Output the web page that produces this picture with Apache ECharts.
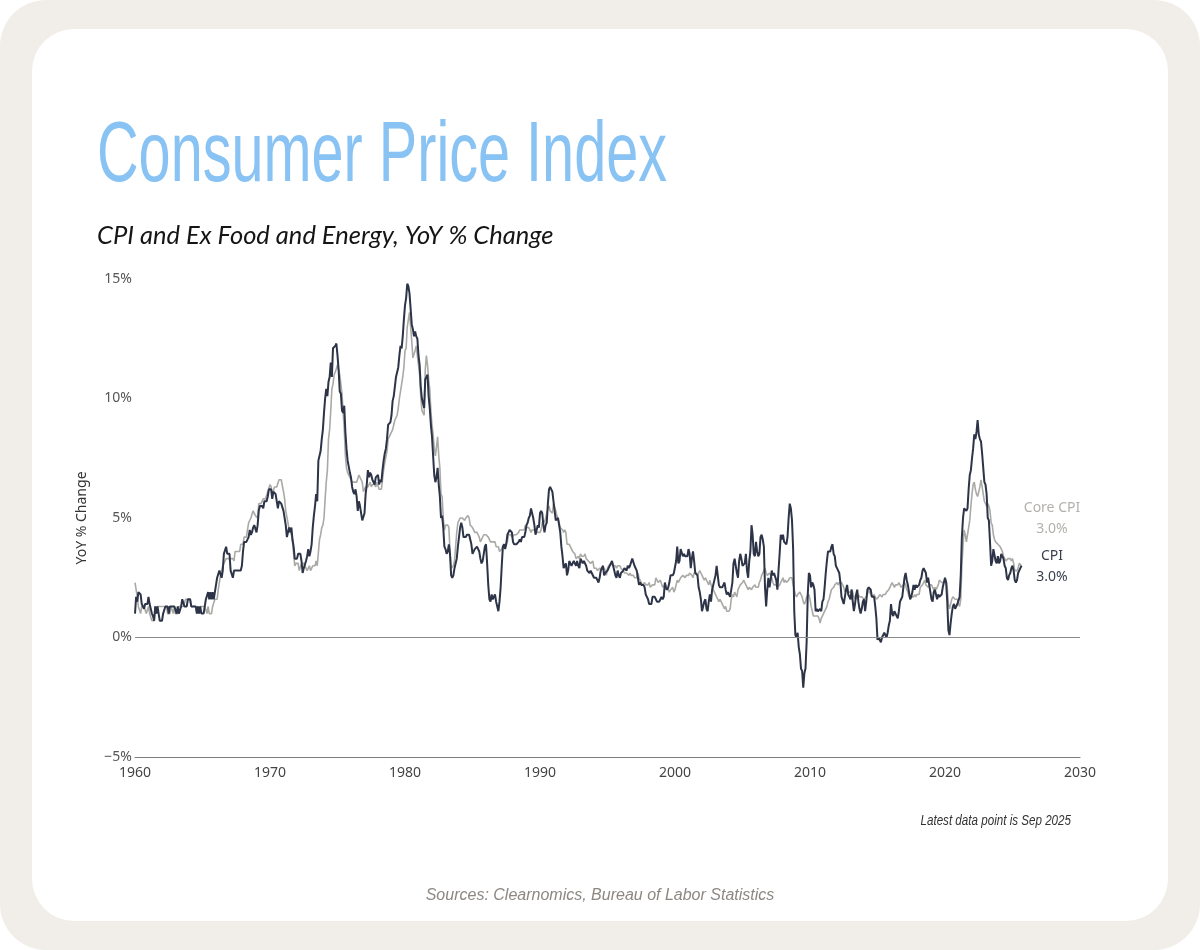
<!DOCTYPE html>
<html>
<head>
<meta charset="utf-8">
<title>Consumer Price Index</title>
<script src="https://cdn.jsdelivr.net/npm/echarts@6/dist/echarts.min.js"></script>
<style>
  html, body { margin: 0; padding: 0; background: #ffffff; }
  #frame { position: relative; width: 1200px; height: 950px; background: #f1eee9; border-radius: 46px; overflow: hidden; }
  #card { position: absolute; left: 32px; top: 29px; width: 1136px; height: 892px; background: #ffffff; border-radius: 42px; }
  #chart { position: absolute; left: 0; top: 0; width: 1200px; height: 950px; }
</style>
</head>
<body>
<div id="frame">
  <div id="card"></div>
  <div id="chart"></div>
</div>
<script>
// monthly YoY % change, starting Jan 1960
const startYear = 1960;

const cpi = [
  1.0,1.7,1.5,1.9,1.9,1.8,1.4,1.4,1.2,1.4,1.4,1.4,
  1.7,1.4,1.4,1.0,0.9,0.7,1.3,1.0,1.3,1.0,0.7,0.7,
  0.7,1.0,1.0,1.3,1.3,1.3,1.0,1.3,1.3,1.3,1.3,1.3,
  1.3,1.0,1.3,1.0,1.0,1.3,1.6,1.6,1.3,1.3,1.3,1.6,
  1.6,1.6,1.3,1.3,1.3,1.3,1.3,1.0,1.3,1.0,1.3,1.0,
  1.0,1.0,1.3,1.6,1.6,1.9,1.6,1.9,1.6,1.9,1.6,1.9,
  1.9,2.5,2.5,2.8,2.8,2.5,2.8,3.5,3.5,3.8,3.5,3.5,
  3.5,2.8,2.8,2.5,2.8,2.8,2.8,2.8,2.8,2.8,2.8,3.0,
  3.6,4.0,4.0,4.0,4.0,4.2,4.5,4.3,4.4,4.6,4.7,4.7,
  4.4,4.7,5.3,5.5,5.5,5.5,5.4,5.7,5.7,5.7,5.9,6.2,
  6.2,6.2,5.8,6.1,6.1,6.0,6.0,5.4,5.7,5.7,5.6,5.6,
  5.3,5.0,4.7,4.2,4.4,4.6,4.4,4.6,4.1,3.8,3.3,3.3,
  3.3,3.5,3.5,3.5,3.2,2.7,2.9,2.9,3.2,3.4,3.7,3.4,
  3.6,3.9,4.6,5.1,5.5,6.0,5.7,7.4,7.4,7.8,8.3,8.7,
  9.4,10.0,10.4,10.1,10.7,10.9,11.5,10.9,12.1,12.1,12.2,12.3,
  11.8,11.2,10.3,10.2,9.5,9.4,9.7,8.6,7.9,7.4,7.4,6.9,
  6.7,6.3,6.1,6.0,6.2,5.9,5.3,5.7,5.5,5.5,4.9,4.9,
  5.2,6.0,6.4,7.0,6.7,6.9,6.8,6.6,6.6,6.4,6.7,6.7,
  6.8,6.4,6.6,6.5,7.0,7.4,7.7,7.9,8.3,8.9,8.9,9.0,
  9.3,9.9,10.1,10.5,10.9,10.9,11.3,11.8,12.2,12.1,12.6,13.3,
  13.9,14.2,14.8,14.7,14.4,14.4,13.1,12.9,12.6,12.8,12.6,12.5,
  11.8,11.4,10.5,10.0,9.8,9.6,10.8,10.8,11.0,10.1,9.6,8.9,
  8.4,7.6,6.8,6.5,6.7,7.1,6.4,5.9,5.0,5.1,4.6,3.8,
  3.7,3.5,3.6,3.9,3.5,2.6,2.5,2.6,2.9,2.9,3.3,3.8,
  4.2,4.6,4.8,4.6,4.2,4.2,4.2,4.3,4.3,4.3,4.1,3.9,
  3.5,3.5,3.7,3.7,3.8,3.8,3.6,3.3,3.1,3.2,3.5,3.8,
  3.9,3.1,2.2,1.6,1.5,1.8,1.6,1.6,1.8,1.5,1.3,1.1,
  1.5,2.1,3.0,3.8,3.9,3.7,3.9,4.3,4.4,4.5,4.5,4.4,
  4.0,3.9,3.9,3.9,3.9,4.0,4.1,4.0,4.2,4.2,4.2,4.4,
  4.7,4.8,5.0,5.1,5.4,5.2,5.0,4.7,4.3,4.5,4.7,4.6,
  5.2,5.3,5.2,4.7,4.4,4.7,4.8,5.6,6.2,6.3,6.3,6.1,
  5.7,5.3,4.9,4.9,5.0,4.7,4.4,3.8,3.4,2.9,3.0,3.1,
  2.6,2.8,3.2,3.2,3.0,3.1,3.2,3.1,3.0,3.2,3.0,2.9,
  3.3,3.2,3.1,3.2,3.2,3.0,2.8,2.8,2.7,2.8,2.7,2.7,
  2.5,2.5,2.5,2.4,2.3,2.5,2.8,2.9,3.0,2.6,2.7,2.7,
  2.8,2.9,2.9,3.1,3.2,3.0,2.8,2.6,2.5,2.8,2.6,2.5,
  2.7,2.7,2.8,2.9,2.9,2.8,3.0,2.9,3.0,3.0,3.3,3.3,
  3.0,3.0,2.8,2.5,2.2,2.3,2.2,2.2,2.2,2.1,1.8,1.7,
  1.6,1.4,1.4,1.4,1.7,1.7,1.7,1.6,1.5,1.5,1.5,1.6,
  1.7,1.6,1.7,2.3,2.1,2.0,2.1,2.3,2.6,2.6,2.6,2.7,
  2.7,3.2,3.8,3.1,3.2,3.7,3.7,3.4,3.5,3.4,3.4,3.4,
  3.7,3.5,2.9,3.3,3.6,3.2,2.7,2.7,2.6,2.1,1.9,1.6,
  1.1,1.1,1.5,1.6,1.2,1.1,1.5,1.8,1.5,2.0,2.2,2.4,
  2.6,3.0,3.0,2.2,2.1,2.1,2.1,2.2,2.3,2.0,1.8,1.9,
  1.9,1.7,1.7,2.3,3.1,3.3,3.0,2.7,2.5,3.2,3.5,3.3,
  3.0,3.0,3.1,3.5,2.8,2.5,3.2,3.6,4.7,4.3,3.5,3.4,
  4.0,3.6,3.4,3.5,4.2,4.3,4.1,3.8,2.1,1.3,2.0,2.5,
  2.1,2.4,2.8,2.6,2.7,2.7,2.4,2.0,2.8,3.5,4.3,4.1,
  4.3,4.0,4.0,3.9,4.2,5.0,5.6,5.4,4.9,3.7,1.1,0.1,
  0.0,0.2,-0.4,-0.7,-1.3,-1.4,-2.1,-1.5,-1.3,-0.2,1.8,2.7,
  2.6,2.1,2.3,2.2,2.0,1.1,1.2,1.1,1.1,1.2,1.1,1.5,
  1.6,2.1,2.7,3.2,3.6,3.6,3.6,3.8,3.9,3.5,3.4,3.0,
  2.9,2.9,2.7,2.3,1.7,1.7,1.4,1.7,2.0,2.2,1.8,1.7,
  1.6,2.0,1.5,1.1,1.4,1.8,2.0,1.5,1.2,1.0,1.2,1.5,
  1.6,1.1,1.5,2.0,2.1,2.1,2.0,1.7,1.7,1.7,1.3,0.8,
  -0.1,0.0,-0.1,-0.2,0.0,0.1,0.2,0.2,0.0,0.2,0.5,0.7,
  1.4,1.0,0.9,1.1,1.0,1.0,0.8,1.1,1.5,1.6,1.7,2.1,
  2.5,2.7,2.4,2.2,1.9,1.6,1.7,1.9,2.2,2.0,2.2,2.1,
  2.1,2.2,2.4,2.5,2.8,2.9,2.9,2.7,2.3,2.5,2.2,1.9,
  1.6,1.5,1.9,2.0,1.8,1.6,1.8,1.7,1.7,1.8,2.1,2.3,
  2.5,2.3,1.5,0.3,0.1,0.6,1.0,1.3,1.4,1.2,1.2,1.4,
  1.4,1.7,2.6,4.2,5.0,5.4,5.4,5.3,5.4,6.2,6.8,7.0,
  7.5,7.9,8.5,8.3,8.6,9.1,8.5,8.3,8.2,7.7,7.1,6.5,
  6.4,6.0,5.0,4.9,4.0,3.0,3.2,3.7,3.7,3.2,3.1,3.4,
  3.1,3.2,3.5,3.4,3.3,3.0,2.9,2.5,2.4,2.6,2.7,2.9,
  3.0,2.8,2.4,2.3,2.4,2.7,2.7,2.9,3.0
];

const coreCpi = [
  2.3,2.0,1.7,1.3,1.3,1.0,1.3,1.3,1.3,1.3,1.0,1.0,
  1.3,1.0,1.0,0.7,0.7,0.7,1.3,1.0,1.3,1.3,1.3,1.3,
  1.3,1.3,1.3,1.3,1.3,1.0,1.0,1.0,1.3,1.3,1.0,1.3,
  1.0,1.0,1.0,1.3,1.3,1.3,1.3,1.3,1.3,1.6,1.6,1.6,
  1.6,1.6,1.3,1.3,1.3,1.3,1.3,1.0,1.3,1.0,1.3,1.3,
  1.3,1.3,1.3,1.3,1.0,1.3,1.0,1.0,1.0,1.3,1.3,1.6,
  1.6,1.6,2.0,2.3,2.6,2.6,3.0,3.0,3.2,3.3,3.3,3.3,
  3.3,3.3,3.3,3.3,3.2,3.6,3.6,3.6,3.6,3.6,3.9,3.9,
  3.9,4.2,4.2,4.2,4.5,4.8,4.8,5.0,5.0,5.3,5.3,5.1,
  5.1,5.0,5.6,5.6,5.6,5.6,5.8,5.8,5.8,5.8,6.1,6.1,
  6.4,6.3,6.0,6.0,6.3,6.3,6.3,6.3,6.6,6.6,6.6,6.6,
  6.1,5.8,5.3,5.3,4.8,4.5,4.5,4.3,4.0,3.5,3.0,3.1,
  3.1,3.1,2.8,2.8,3.1,3.1,3.1,3.0,3.0,2.8,2.8,3.0,
  2.8,2.8,3.0,3.0,3.0,3.2,3.0,3.0,4.1,4.3,4.6,4.7,
  5.0,5.8,6.5,7.0,8.3,8.7,9.5,10.4,10.6,11.0,11.1,11.1,
  11.4,11.4,11.0,10.6,10.2,9.4,8.7,7.6,7.1,6.9,6.9,6.7,
  6.7,6.5,6.5,6.5,6.5,6.5,6.5,6.8,6.8,6.6,6.5,6.1,
  6.1,6.3,6.3,6.3,6.3,6.5,6.3,6.4,6.4,6.4,6.3,6.5,
  6.5,6.2,6.2,6.2,6.6,7.0,7.3,7.3,7.8,8.3,8.3,8.5,
  8.5,8.7,8.9,9.1,9.1,9.3,9.6,10.0,10.3,10.6,10.9,11.3,
  12.0,12.1,13.0,13.0,13.6,13.6,12.4,11.7,11.7,12.0,12.2,12.2,
  11.4,11.0,10.1,9.5,9.4,9.3,11.2,11.8,11.4,10.8,10.4,9.5,
  8.9,8.5,7.9,7.6,8.0,8.4,7.6,7.1,6.0,5.9,5.0,4.5,
  4.7,4.7,4.7,4.6,3.6,2.9,2.9,3.0,3.2,3.8,4.4,4.8,
  4.9,5.0,5.0,5.0,5.0,4.9,5.0,5.0,5.1,5.0,4.7,4.7,
  4.6,4.5,4.4,4.4,4.4,4.3,4.2,4.0,4.1,4.1,4.3,4.3,
  4.3,4.3,4.2,4.2,4.0,4.0,4.0,4.0,4.0,3.8,3.8,3.8,
  3.6,3.6,3.7,3.8,3.8,3.9,3.9,4.0,4.3,4.3,4.3,4.2,
  4.2,4.3,4.3,4.3,4.3,4.4,4.5,4.5,4.5,4.5,4.5,4.7,
  4.6,4.6,4.6,4.5,4.4,4.5,4.5,4.5,4.4,4.4,4.4,4.4,
  4.4,4.5,4.8,4.9,4.8,5.0,5.0,5.4,5.5,5.3,5.3,5.2,
  5.6,5.6,5.3,5.1,5.1,4.8,4.6,4.6,4.5,4.4,4.5,4.4,
  3.9,3.9,3.9,3.8,3.8,3.6,3.6,3.5,3.3,3.3,3.4,3.3,
  3.5,3.4,3.4,3.4,3.5,3.3,3.3,3.2,3.2,3.1,3.1,3.2,
  2.9,2.9,2.9,2.8,2.8,2.9,2.9,2.9,2.9,2.9,2.8,2.6,
  2.9,3.0,3.0,3.1,3.1,3.0,3.0,3.0,2.9,3.0,3.0,3.0,
  2.9,2.9,2.8,2.7,2.7,2.7,2.7,2.6,2.7,2.6,2.6,2.6,
  2.5,2.5,2.5,2.7,2.5,2.4,2.3,2.2,2.2,2.3,2.2,2.2,
  2.2,2.3,2.1,2.1,2.2,2.2,2.2,2.5,2.5,2.3,2.3,2.4,
  2.4,2.1,2.1,2.2,2.0,2.1,2.1,1.9,2.0,2.0,2.1,1.9,
  2.0,2.2,2.4,2.3,2.4,2.5,2.5,2.6,2.6,2.5,2.6,2.6,
  2.6,2.7,2.7,2.6,2.5,2.7,2.7,2.7,2.6,2.6,2.8,2.7,
  2.6,2.6,2.4,2.5,2.5,2.3,2.2,2.4,2.2,2.2,2.0,1.9,
  1.9,1.7,1.7,1.5,1.6,1.5,1.5,1.3,1.2,1.3,1.1,1.1,
  1.1,1.2,1.6,1.8,1.7,1.9,1.8,1.7,2.0,2.0,2.2,2.2,
  2.3,2.4,2.3,2.2,2.2,2.0,2.1,2.1,2.0,2.1,2.1,2.2,
  2.1,2.1,2.1,2.3,2.4,2.6,2.7,2.8,2.9,2.7,2.6,2.6,
  2.7,2.7,2.5,2.3,2.2,2.2,2.2,2.1,2.1,2.2,2.3,2.4,
  2.5,2.3,2.4,2.3,2.3,2.4,2.5,2.5,2.5,2.2,2.0,1.8,
  1.7,1.8,1.8,1.9,1.8,1.7,1.5,1.4,1.5,1.7,1.7,1.8,
  1.6,1.3,1.1,0.9,0.9,0.9,0.9,0.9,0.8,0.6,0.8,0.8,
  1.0,1.1,1.2,1.3,1.5,1.6,1.8,2.0,2.0,2.1,2.2,2.2,
  2.3,2.2,2.3,2.3,2.3,2.2,2.1,1.9,2.0,2.0,1.9,1.9,
  1.9,2.0,1.9,1.7,1.7,1.6,1.7,1.8,1.7,1.7,1.7,1.7,
  1.6,1.6,1.7,1.8,2.0,1.9,1.9,1.7,1.7,1.8,1.7,1.6,
  1.6,1.7,1.8,1.8,1.7,1.8,1.8,1.8,1.9,1.9,2.0,2.1,
  2.2,2.3,2.2,2.1,2.2,2.2,2.2,2.3,2.2,2.1,2.1,2.2,
  2.3,2.2,2.0,1.9,1.7,1.7,1.7,1.7,1.7,1.8,1.7,1.8,
  1.8,1.8,2.1,2.1,2.2,2.3,2.4,2.2,2.2,2.1,2.2,2.2,
  2.2,2.1,2.0,2.1,2.0,2.1,2.2,2.4,2.4,2.3,2.3,2.3,
  2.3,2.4,2.1,1.4,1.2,1.2,1.6,1.7,1.7,1.6,1.6,1.6,
  1.4,1.3,1.6,3.0,3.8,4.5,4.3,4.0,4.0,4.6,4.9,5.5,
  6.0,6.4,6.5,6.2,6.0,5.9,5.9,6.3,6.6,6.3,6.0,5.7,
  5.6,5.5,5.6,5.5,5.3,4.8,4.7,4.3,4.1,4.0,4.0,3.9,
  3.9,3.8,3.8,3.6,3.4,3.3,3.2,3.2,3.3,3.3,3.3,3.2,
  3.3,3.1,2.8,2.8,2.8,2.9,3.1,3.1,3.0
];

const yearTicks = [1960, 1970, 1980, 1990, 2000, 2010, 2020, 2030];
const pctTicks = [-5, 0, 5, 10, 15];

const toPoints = arr => arr.map((v, i) => [startYear + i / 12, v]);

const chart = echarts.init(document.getElementById('chart'), null, { renderer: 'canvas' });

const labelFont = '"Noto Sans", "Open Sans", sans-serif';

chart.setOption({
  animation: false,
  backgroundColor: 'transparent',
  grid: { left: 135, right: 120, top: 279, bottom: 193, containLabel: false },
  xAxis: {
    type: 'value',
    min: yearTicks[0],
    max: yearTicks[yearTicks.length - 1],
    interval: 10,
    axisLine: { show: true, onZero: false, lineStyle: { color: '#7d7d7d', width: 1.2 } },
    axisTick: { show: false },
    splitLine: { show: false },
    axisLabel: { color: '#444', fontSize: 14, fontFamily: labelFont, margin: 9, formatter: v => String(v) }
  },
  yAxis: {
    type: 'value',
    min: pctTicks[0],
    max: pctTicks[pctTicks.length - 1],
    interval: 5,
    name: 'YoY % Change',
    nameLocation: 'middle',
    nameGap: 46,
    nameTextStyle: { color: '#333', fontSize: 14, fontFamily: labelFont },
    axisLine: { show: false },
    axisTick: { show: false },
    splitLine: { show: false },
    axisLabel: {
      color: '#555', fontSize: 14, fontFamily: labelFont, margin: 3,
      formatter: v => (v < 0 ? '\u2212' + (-v) : v) + '%'
    }
  },
  series: [
    {
      name: 'Core CPI',
      type: 'line',
      data: toPoints(coreCpi),
      showSymbol: false,
      z: 2,
      lineStyle: { color: '#a9aaa6', width: 1.6 },
      markLine: {
        silent: true,
        symbol: ['none', 'none'],
        label: { show: false },
        lineStyle: { color: '#8a8a8a', width: 1.2, type: 'solid' },
        data: [{ yAxis: 0 }]
      }
    },
    {
      name: 'CPI',
      type: 'line',
      data: toPoints(cpi),
      showSymbol: false,
      z: 3,
      lineStyle: { color: '#2d3447', width: 2 }
    }
  ],
  graphic: [
    {
      type: 'group', x: 97, y: 157, scaleX: 0.67, scaleY: 1,
      children: [{
        type: 'text', x: 0, y: 0,
        style: {
          text: 'Consumer Price Index',
          fontSize: 86, fontFamily: '"Liberation Sans", Arial, sans-serif',
          fill: '#88c3f3', textAlign: 'left', textVerticalAlign: 'middle', align: 'left', verticalAlign: 'middle'
        }
      }]
    },
    {
      type: 'text', x: 97, y: 236,
      style: {
        text: 'CPI and Ex Food and Energy, YoY % Change',
        fontSize: 25.5, fontStyle: 'italic', fontFamily: 'Lato, "Open Sans", sans-serif',
        fill: '#151515', textAlign: 'left', textVerticalAlign: 'middle', align: 'left', verticalAlign: 'middle'
      }
    },
    {
      type: 'text', x: 1052, y: 508,
      style: {
        text: 'Core CPI', fontSize: 14, fontFamily: labelFont, fill: '#b3b1ac',
        textAlign: 'center', textVerticalAlign: 'middle', align: 'center', verticalAlign: 'middle'
      }
    },
    {
      type: 'text', x: 1052, y: 529,
      style: {
        text: '3.0%', fontSize: 14, fontFamily: labelFont, fill: '#b3b1ac',
        textAlign: 'center', textVerticalAlign: 'middle', align: 'center', verticalAlign: 'middle'
      }
    },
    {
      type: 'text', x: 1052, y: 556,
      style: {
        text: 'CPI', fontSize: 14, fontFamily: labelFont, fill: '#3a3f4e',
        textAlign: 'center', textVerticalAlign: 'middle', align: 'center', verticalAlign: 'middle'
      }
    },
    {
      type: 'text', x: 1052, y: 577,
      style: {
        text: '3.0%', fontSize: 14, fontFamily: labelFont, fill: '#3a3f4e',
        textAlign: 'center', textVerticalAlign: 'middle', align: 'center', verticalAlign: 'middle'
      }
    },
    {
      type: 'group', x: 1071, y: 821, scaleX: 0.83, scaleY: 1,
      children: [{
        type: 'text', x: 0, y: 0,
        style: {
          text: 'Latest data point is Sep 2025', fontSize: 14, fontStyle: 'italic',
          fontFamily: '"Liberation Sans", Arial, sans-serif', fill: '#333',
          textAlign: 'right', textVerticalAlign: 'middle', align: 'right', verticalAlign: 'middle'
        }
      }]
    },
    {
      type: 'text', x: 600, y: 896,
      style: {
        text: 'Sources: Clearnomics, Bureau of Labor Statistics', fontSize: 16, fontStyle: 'italic',
        fontFamily: '"Liberation Sans", Arial, sans-serif', fill: '#8c8782',
        textAlign: 'center', textVerticalAlign: 'middle', align: 'center', verticalAlign: 'middle'
      }
    }
  ]
});
</script>
</body>
</html>
